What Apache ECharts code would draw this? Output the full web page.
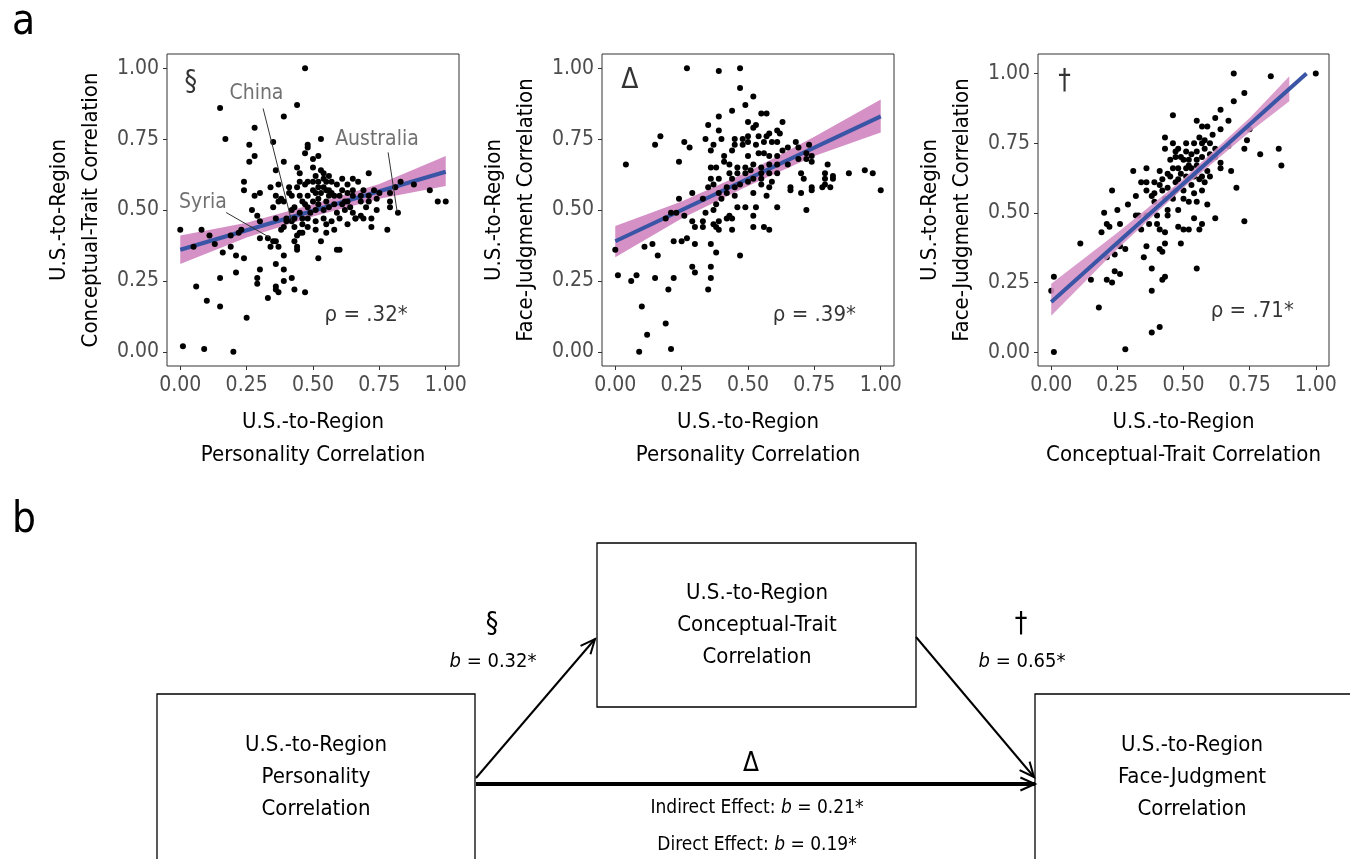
<!DOCTYPE html>
<html>
<head>
<meta charset="utf-8">
<script src="https://cdn.jsdelivr.net/npm/echarts@6.0.0/dist/echarts.min.js"></script>
<style>
  html, body { margin: 0; padding: 0; background: #fff; }
  #main { width: 1350px; height: 859px; }
</style>
</head>
<body>
<div id="main"></div>
<script>
// tick values shared by all axes
var tickValues = [0, 0.25, 0.5, 0.75, 1];

// panel 1: personality (x) vs conceptual-trait (y)
var personalityTrait = [
  [0.47,1.00],[0.15,0.86],[0.44,0.87],[0.39,0.83],[0.28,0.79],[0.17,0.75],[0.35,0.74],[0.53,0.75],[0.26,0.73],[0.48,0.73],
  [0.48,0.72],[0.28,0.69],[0.26,0.67],[0.39,0.67],[0.47,0.70],[0.52,0.69],[0.50,0.68],[0.36,0.64],[0.44,0.65],
  [0.45,0.63],[0.50,0.65],[0.53,0.64],[0.54,0.63],[0.56,0.62],[0.51,0.62],[0.54,0.61],[0.61,0.61],[0.65,0.61],[0.71,0.63],
  [0.24,0.60],[0.48,0.60],[0.45,0.60],[0.47,0.59],[0.52,0.60],[0.55,0.60],[0.57,0.60],[0.63,0.59],[0.67,0.60],[0.83,0.60],[0.88,0.59],
  [0.24,0.57],[0.34,0.58],[0.37,0.59],[0.41,0.58],[0.30,0.56],[0.28,0.55],[0.41,0.56],[0.44,0.58],[0.50,0.57],[0.52,0.58],
  [0.54,0.58],[0.56,0.57],[0.59,0.59],[0.61,0.57],[0.63,0.56],[0.65,0.57],[0.69,0.57],[0.73,0.57],[0.75,0.56],[0.79,0.56],
  [0.81,0.58],[0.94,0.57],[0.36,0.55],[0.38,0.54],[0.42,0.55],[0.45,0.55],[0.48,0.55],[0.51,0.56],[0.56,0.55],[0.57,0.56],
  [0.60,0.55],[0.65,0.55],[0.68,0.55],[0.71,0.55],[0.74,0.54],[0.63,0.53],
  [0.50,0.60],[0.53,0.56],[0.55,0.57],[0.58,0.55],[0.52,0.54],[0.47,0.52],
  [0.27,0.50],[0.29,0.48],[0.37,0.53],[0.39,0.53],[0.43,0.51],[0.46,0.53],[0.48,0.51],[0.50,0.53],[0.52,0.52],[0.55,0.53],
  [0.58,0.52],[0.61,0.52],[0.62,0.53],[0.64,0.51],[0.68,0.53],[0.71,0.53],[0.74,0.50],[0.79,0.53],[0.79,0.51],[0.82,0.49],
  [0.97,0.53],[1.00,0.53],[0.35,0.51],[0.42,0.50],[0.45,0.49],[0.49,0.49],[0.51,0.50],[0.54,0.50],[0.56,0.51],[0.59,0.49],
  [0.62,0.50],[0.65,0.49],[0.68,0.48],[0.70,0.51],
  [0.36,0.47],[0.40,0.47],[0.40,0.46],[0.43,0.47],[0.46,0.47],[0.48,0.47],[0.51,0.46],[0.54,0.47],[0.57,0.46],[0.60,0.47],
  [0.66,0.47],[0.69,0.47],[0.72,0.47],[0.72,0.44],[0.78,0.43],[0.30,0.46],[0.38,0.43],[0.39,0.44],[0.43,0.44],[0.46,0.45],
  [0.48,0.44],[0.51,0.43],[0.55,0.42],[0.58,0.43],[0.55,0.45],[0.63,0.45],[0.66,0.47],[0.42,0.46],
  [0.00,0.43],[0.08,0.43],[0.11,0.41],[0.05,0.37],[0.13,0.38],[0.16,0.35],[0.19,0.41],[0.23,0.43],[0.22,0.42],[0.19,0.37],
  [0.21,0.34],[0.24,0.33],
  [0.30,0.40],[0.33,0.40],[0.36,0.39],[0.34,0.37],[0.35,0.39],[0.37,0.37],[0.39,0.34],[0.43,0.39],[0.44,0.41],[0.45,0.42],
  [0.46,0.42],[0.44,0.37],[0.44,0.36],[0.53,0.39],[0.59,0.36],[0.60,0.36],[0.52,0.33],
  [0.36,0.31],[0.39,0.29],[0.30,0.29],[0.29,0.26],[0.29,0.24],[0.21,0.28],[0.15,0.26],[0.06,0.23],[0.39,0.25],[0.42,0.26],
  [0.36,0.23],[0.36,0.22],[0.37,0.21],[0.33,0.19],[0.43,0.22],[0.47,0.21],[0.10,0.18],[0.15,0.16],
  [0.25,0.12],[0.01,0.02],[0.09,0.01],[0.20,0.00]
];

// panel 2: personality (x) vs face-judgment (y)
var personalityFace = [
  [0.27,1.00],[0.39,0.99],[0.47,1.00],[0.47,0.93],[0.52,0.90],[0.49,0.87],[0.44,0.85],[0.55,0.84],[0.57,0.84],[0.39,0.83],
  [0.35,0.80],[0.50,0.81],[0.53,0.80],[0.52,0.79],[0.63,0.81],[0.39,0.78],[0.17,0.76],[0.15,0.73],[0.26,0.74],[0.28,0.72],
  [0.34,0.75],[0.04,0.66],[0.24,0.67],
  [0.45,0.75],[0.48,0.75],[0.50,0.76],[0.54,0.76],[0.57,0.76],[0.58,0.77],[0.61,0.78],[0.62,0.77],[0.37,0.73],[0.40,0.75],
  [0.45,0.73],[0.48,0.73],[0.50,0.74],[0.53,0.73],[0.56,0.74],[0.59,0.74],[0.61,0.74],[0.63,0.71],[0.65,0.72],[0.68,0.74],
  [0.69,0.72],[0.73,0.73],[0.36,0.71],[0.41,0.69],[0.44,0.71],[0.50,0.69],[0.54,0.70],[0.56,0.70],[0.58,0.69],[0.61,0.69],
  [0.72,0.70],[0.74,0.69],[0.72,0.68],[0.74,0.67],[0.69,0.68],[0.41,0.67],
  [0.36,0.65],[0.38,0.65],[0.43,0.66],[0.46,0.65],[0.49,0.65],[0.52,0.66],[0.55,0.65],[0.58,0.66],[0.61,0.66],[0.65,0.66],
  [0.80,0.66],[0.43,0.63],[0.46,0.63],[0.49,0.63],[0.51,0.64],[0.55,0.63],[0.58,0.63],[0.61,0.63],[0.70,0.63],[0.79,0.63],
  [0.82,0.62],[0.88,0.63],[0.94,0.64],[0.97,0.63],[0.36,0.61],[0.39,0.61],[0.44,0.61],[0.47,0.59],[0.50,0.60],[0.52,0.61],
  [0.55,0.61],[0.59,0.60],[0.71,0.61],[0.79,0.61],[0.82,0.61],[0.35,0.58],[0.37,0.59],[0.42,0.58],[0.45,0.58],[0.55,0.59],
  [0.58,0.58],[0.66,0.58],[0.66,0.57],[0.74,0.58],[0.74,0.57],[0.79,0.59],[0.78,0.58],[0.81,0.58],[1.00,0.57],
  [0.29,0.56],[0.33,0.54],[0.39,0.56],[0.42,0.56],[0.45,0.55],[0.52,0.56],[0.57,0.55],[0.70,0.56],[0.24,0.54],[0.38,0.52],
  [0.40,0.54],[0.46,0.51],[0.49,0.51],[0.53,0.51],[0.37,0.50],[0.21,0.49],[0.23,0.49],[0.34,0.49],[0.43,0.48],[0.52,0.48],
  [0.61,0.51],[0.72,0.50],
  [0.19,0.47],[0.26,0.48],[0.29,0.46],[0.33,0.46],[0.37,0.45],[0.39,0.46],[0.42,0.47],[0.44,0.47],[0.30,0.44],[0.33,0.44],
  [0.38,0.44],[0.39,0.43],[0.44,0.43],[0.52,0.44],[0.56,0.44],[0.58,0.43],
  [0.22,0.39],[0.25,0.39],[0.27,0.40],[0.11,0.37],[0.14,0.38],[0.30,0.38],[0.36,0.38],[0.00,0.36],[0.16,0.34],[0.38,0.35],
  [0.47,0.34],[0.36,0.30],[0.29,0.30],[0.30,0.28],[0.01,0.27],[0.08,0.27],[0.06,0.25],[0.15,0.26],[0.22,0.26],[0.36,0.26],
  [0.20,0.22],[0.35,0.22],
  [0.10,0.16],[0.19,0.10],[0.12,0.06],[0.21,0.01],[0.09,0.00]
];

// panel 3: conceptual-trait (x) vs face-judgment (y)
var traitFace = [
  [0.69,1.00],[0.83,0.99],[1.00,1.00],[0.73,0.93],[0.69,0.90],[0.64,0.87],[0.46,0.85],[0.67,0.83],[0.62,0.84],[0.55,0.83],
  [0.57,0.81],[0.59,0.81],[0.64,0.80],[0.61,0.78],[0.75,0.80],[0.43,0.77],[0.56,0.77],[0.58,0.76],[0.74,0.76],[0.46,0.75],
  [0.51,0.75],[0.54,0.75],[0.57,0.75],[0.60,0.75],[0.62,0.73],[0.67,0.74],[0.43,0.73],[0.48,0.73],[0.51,0.72],[0.55,0.72],
  [0.58,0.73],[0.73,0.73],[0.79,0.71],[0.86,0.73],[0.87,0.67],[0.45,0.69],[0.47,0.70],[0.50,0.69],[0.52,0.69],[0.55,0.69],
  [0.57,0.70],[0.60,0.69],[0.64,0.68],[0.36,0.66],[0.31,0.65],[0.41,0.65],[0.46,0.66],[0.48,0.66],[0.51,0.66],[0.53,0.66],
  [0.56,0.66],[0.59,0.65],[0.64,0.66],[0.68,0.65],[0.34,0.61],[0.36,0.61],[0.39,0.61],[0.42,0.62],[0.45,0.63],[0.48,0.62],
  [0.51,0.63],[0.54,0.63],[0.57,0.63],[0.60,0.63],[0.58,0.61],[0.70,0.59],[0.23,0.58],[0.32,0.56],[0.36,0.58],[0.39,0.57],
  [0.42,0.58],[0.44,0.59],[0.47,0.58],[0.50,0.58],[0.54,0.57],[0.57,0.58],[0.29,0.53],[0.39,0.54],[0.43,0.55],[0.46,0.55],
  [0.52,0.54],[0.55,0.54],[0.59,0.53],[0.25,0.51],[0.20,0.50],[0.32,0.49],[0.33,0.49],[0.36,0.49],[0.44,0.51],[0.44,0.49],
  [0.48,0.51],[0.40,0.49],[0.21,0.46],[0.22,0.45],[0.26,0.46],[0.19,0.43],[0.34,0.44],[0.37,0.46],[0.40,0.46],[0.41,0.44],
  [0.43,0.43],[0.48,0.45],[0.50,0.44],[0.52,0.44],[0.54,0.48],[0.57,0.46],[0.56,0.44],[0.62,0.48],[0.73,0.47],
  [0.47,0.72],[0.49,0.70],[0.53,0.71],[0.52,0.67],[0.55,0.67],[0.49,0.64],[0.44,0.64],[0.47,0.61],[0.53,0.60],[0.56,0.62],
  [0.46,0.57],[0.50,0.55],[0.41,0.60],[0.38,0.56],[0.60,0.71],[0.62,0.70],
  [0.11,0.39],[0.26,0.38],[0.28,0.37],[0.36,0.38],[0.41,0.37],[0.43,0.39],[0.42,0.36],[0.49,0.39],[0.24,0.35],[0.21,0.34],
  [0.35,0.34],[0.38,0.30],[0.24,0.29],[0.26,0.28],[0.21,0.26],[0.23,0.25],[0.15,0.26],[0.43,0.27],[0.42,0.26],[0.55,0.30],
  [0.01,0.27],[0.00,0.22],[0.38,0.22],[0.18,0.16],[0.41,0.09],[0.38,0.07],[0.28,0.01],[0.01,0.00]
];

// fitted lines [x, y]
var fitTrait = [[0, 0.36], [1, 0.635]];
var fitPersFace = [[0, 0.39], [1, 0.83]];
var fitTraitFace = [[0, 0.18], [0.965, 1.00]];

// confidence bands [x, lower, upper]
var bandTrait = [[0, 0.31, 0.41], [0.25, 0.403, 0.455], [0.5, 0.477, 0.52], [0.75, 0.54, 0.592], [1, 0.585, 0.69]];
var bandPersFace = [[0, 0.333, 0.444], [0.25, 0.47, 0.53], [0.5, 0.585, 0.635], [0.75, 0.69, 0.758], [1, 0.773, 0.89]];
var bandTraitFace = [[0, 0.13, 0.245], [0.25, 0.37, 0.428], [0.5, 0.59, 0.622], [0.75, 0.79, 0.84], [0.9, 0.90, 0.99]];

// labelled countries in panel 1
var countryLabels = [
  { name: 'China', text: [0.287, 0.912], from: [0.312, 0.858], to: [0.419, 0.462] },
  { name: 'Australia', text: [0.741, 0.75], from: [0.783, 0.703], to: [0.817, 0.494] },
  { name: 'Syria', text: [0.085, 0.526], from: [0.173, 0.491], to: [0.335, 0.404] }
];

var FONT = "'Liberation Sans Narrow', 'DejaVu Sans Condensed', sans-serif";
var PINK = '#d591c6';
var BLUE = '#3a55a5';

var chart = echarts.init(document.getElementById('main'), null, { renderer: 'canvas' });

var grids = [
  { left: 167, top: 54, width: 292, height: 312 },
  { left: 602, top: 54, width: 292, height: 312 },
  { left: 1038, top: 54, width: 291, height: 312 }
];
grids.forEach(function (g) {
  g.show = true;
  g.borderColor = '#333';
  g.borderWidth = 1;
  g.backgroundColor = '#fff';
});

function xAxisFor(i, name) {
  return {
    gridIndex: i, type: 'value', min: -0.05, max: 1.05,
    name: name, nameLocation: 'middle', nameGap: 40,
    nameTextStyle: { fontFamily: FONT, fontSize: 22, color: '#000', lineHeight: 33 },
    axisLine: { show: false, onZero: false },
    axisTick: { show: true, length: 4, customValues: tickValues, lineStyle: { color: '#333' } },
    axisLabel: {
      customValues: tickValues, margin: 9,
      formatter: function (v) { return v.toFixed(2); },
      fontFamily: FONT, fontSize: 21, color: '#4d4d4d'
    },
    splitLine: { show: false }
  };
}

function yAxisFor(i, name, max) {
  return {
    gridIndex: i, type: 'value', min: -0.05, max: max,
    name: name, nameLocation: 'middle', nameGap: 60, nameRotate: 90,
    nameTextStyle: { fontFamily: FONT, fontSize: 22, color: '#000', lineHeight: 32 },
    axisLine: { show: false, onZero: false },
    axisTick: { show: true, length: 4, customValues: tickValues, lineStyle: { color: '#333' } },
    axisLabel: {
      customValues: tickValues, margin: 8,
      formatter: function (v) { return v.toFixed(2); },
      fontFamily: FONT, fontSize: 21, color: '#4d4d4d'
    },
    splitLine: { show: false }
  };
}

function bandSeries(i, band, opacity, z) {
  return {
    type: 'custom', xAxisIndex: i, yAxisIndex: i, z: z, silent: true,
    data: [[0, 0]],
    renderItem: function (params, api) {
      var pts = [];
      band.forEach(function (b) { pts.push(api.coord([b[0], b[2]])); });
      band.slice().reverse().forEach(function (b) { pts.push(api.coord([b[0], b[1]])); });
      return { type: 'polygon', shape: { points: pts }, style: { fill: PINK, opacity: opacity } };
    }
  };
}

function fitSeries(i, fit, z) {
  return {
    type: 'line', xAxisIndex: i, yAxisIndex: i, z: z, silent: true,
    data: fit, symbol: 'none',
    lineStyle: { color: BLUE, width: 4 }
  };
}

function pointSeries(i, pts, z) {
  return {
    type: 'scatter', xAxisIndex: i, yAxisIndex: i, z: z, silent: true,
    data: pts, symbolSize: 6,
    itemStyle: { color: '#000', opacity: 1 }
  };
}

function textSeries(i, items, size, color) {
  return {
    type: 'scatter', xAxisIndex: i, yAxisIndex: i, z: 10, silent: true,
    symbolSize: 0,
    data: items.map(function (t) { return { value: t.pos, name: t.text }; }),
    label: {
      show: true, position: 'inside', formatter: '{b}',
      fontFamily: FONT, fontSize: size, color: color
    }
  };
}

var series = [];
// panel 1
series.push(bandSeries(0, bandTrait, 1, 1));
series.push(fitSeries(0, fitTrait, 2));
series.push({
  type: 'lines', coordinateSystem: 'cartesian2d', xAxisIndex: 0, yAxisIndex: 0, z: 4, silent: true,
  data: countryLabels.map(function (c) { return { coords: [c.from, c.to] }; }),
  lineStyle: { color: '#333', width: 1, opacity: 1 }
});
series.push(pointSeries(0, personalityTrait, 3));
series.push(textSeries(0, countryLabels.map(function (c) { return { pos: c.text, text: c.name }; }), 21, '#4d4d4d'));
series.push(textSeries(0, [{ pos: [0.04, 0.95], text: '§' }], 28, '#000'));
series.push(textSeries(0, [{ pos: [0.70, 0.13], text: 'ρ = .32*' }], 22, '#000'));
// panel 2
series.push(bandSeries(1, bandPersFace, 1, 1));
series.push(fitSeries(1, fitPersFace, 2));
series.push(pointSeries(1, personalityFace, 3));
series.push(textSeries(1, [{ pos: [0.055, 0.955], text: 'Δ' }], 28, '#000'));
series.push(textSeries(1, [{ pos: [0.75, 0.13], text: 'ρ = .39*' }], 22, '#000'));
// panel 3 (band drawn over the points)
series.push(pointSeries(2, traitFace, 1));
series.push(bandSeries(2, bandTraitFace, 0.88, 2));
series.push(fitSeries(2, fitTraitFace, 3));
series.push(textSeries(2, [{ pos: [0.05, 0.97], text: '†' }], 28, '#000'));
series.push(textSeries(2, [{ pos: [0.76, 0.145], text: 'ρ = .71*' }], 22, '#000'));

// ---- panel b: mediation diagram ----
function box(x, y, w, h) {
  return { type: 'rect', shape: { x: x, y: y, width: w, height: h }, style: { fill: 'none', stroke: '#000', lineWidth: 1.3 } };
}
function label(x, y, text, size, rich) {
  return {
    type: 'text', x: x, y: y,
    style: {
      text: text, font: size + 'px ' + FONT, fill: '#000',
      align: 'center', verticalAlign: 'middle', lineHeight: size * 1.45,
      rich: rich || {}
    }
  };
}
function arrow(x1, y1, x2, y2, w) {
  var a = Math.atan2(y2 - y1, x2 - x1), len = 16, spread = 0.42;
  return [
    { type: 'line', shape: { x1: x1, y1: y1, x2: x2, y2: y2 }, style: { stroke: '#000', lineWidth: w } },
    {
      type: 'polyline',
      shape: { points: [
        [x2 - len * Math.cos(a - spread), y2 - len * Math.sin(a - spread)],
        [x2, y2],
        [x2 - len * Math.cos(a + spread), y2 - len * Math.sin(a + spread)]
      ] },
      style: { stroke: '#000', lineWidth: 2, fill: 'none' }
    }
  ];
}
var italic = { i: { fontStyle: 'italic', fontFamily: FONT, fontSize: 20 } };
var italicSmall = { i: { fontStyle: 'italic', fontFamily: FONT, fontSize: 19 } };

var graphics = [
  { type: 'text', x: 12, y: 2, style: { text: 'a', font: '42px ' + FONT, fill: '#000' } },
  { type: 'text', x: 12, y: 500, style: { text: 'b', font: '42px ' + FONT, fill: '#000' } },
  box(597, 543, 319, 164),
  box(157, 694, 318, 180),
  box(1035, 694, 330, 180),
  label(757, 625, 'U.S.-to-Region\nConceptual-Trait\nCorrelation', 22),
  label(316, 777, 'U.S.-to-Region\nPersonality\nCorrelation', 22),
  label(1192, 777, 'U.S.-to-Region\nFace-Judgment\nCorrelation', 22),
  label(492, 625, '§', 28),
  label(493, 662, '{i|b} = 0.32*', 20, italic),
  label(1021, 625, '†', 28),
  label(1022, 662, '{i|b} = 0.65*', 20, italic),
  label(751, 764, 'Δ', 26),
  label(757, 808, 'Indirect Effect: {i|b} = 0.21*', 19, italicSmall),
  label(757, 845, 'Direct Effect: {i|b} = 0.19*', 19, italicSmall)
].concat(arrow(476, 778, 595, 639, 2))
 .concat(arrow(916, 637, 1034, 777, 2))
 .concat(arrow(476, 784, 1035, 784, 4));

var option = {
  backgroundColor: '#fff',
  animation: false,
  grid: grids,
  xAxis: [
    xAxisFor(0, 'U.S.-to-Region\nPersonality Correlation'),
    xAxisFor(1, 'U.S.-to-Region\nPersonality Correlation'),
    xAxisFor(2, 'U.S.-to-Region\nConceptual-Trait Correlation')
  ],
  yAxis: [
    yAxisFor(0, 'U.S.-to-Region\nConceptual-Trait Correlation', 1.05),
    yAxisFor(1, 'U.S.-to-Region\nFace-Judgment Correlation', 1.05),
    yAxisFor(2, 'U.S.-to-Region\nFace-Judgment Correlation', 1.07)
  ],
  series: series,
  graphic: graphics
};
chart.setOption(option);
</script>
</body>
</html>
